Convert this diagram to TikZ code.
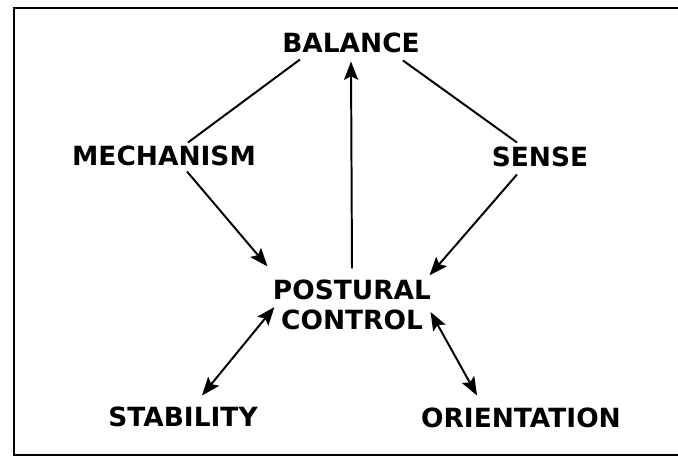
\documentclass[tikz,border=0pt]{standalone}
\usepackage{fontspec}
\setmainfont{DejaVu Sans}
\usetikzlibrary{arrows.meta,calc}
\begin{document}
\begin{tikzpicture}[x=0.025cm, y=-0.025cm,
  every node/.style={font=\fontsize{18.8}{21.5}\selectfont\bfseries, inner sep=3pt},
  link/.style={line width=1.4pt},
  arr/.style={link, -{Stealth[length=13pt, width=10pt, inset=2.5pt]}},
  darr/.style={link, {Stealth[length=13pt, width=10pt, inset=2.5pt]}-{Stealth[length=13pt, width=10pt, inset=2.5pt]}}]
\useasboundingbox (0,0) rectangle (678,458);
% open frame, no right side
\draw[line width=1.6pt] (678,8) -- (14,8) -- (14,455) -- (678,455);
% concepts
\node (bal) at (351,43) {BALANCE};
\node (mech) at (164,156) {MECHANISM};
\node (sense) at (540,157) {SENSE};
\node[align=center] (post) at (352,305) {POSTURAL\\CONTROL};
\node (stab) at (183,417) {STABILITY};
\node (orient) at (521,418) {ORIENTATION};
% links into balance
\draw[link] ($(bal.south)+(-51,2)$) -- ($(mech.north)+(24,1)$);
\draw[link] ($(bal.south)+(52,3)$) -- ($(sense.north)+(-23,0)$);
\draw[arr] ($(post.north)+(0,-7)$) -- ($(bal.south)+(0,4)$);
% links into postural control
\draw[arr] ($(mech.south)+(23,1)$) -- ($(post.north west)+(-1,-9)$);
\draw[arr] ($(sense.south)+(-23,3)$) -- ($(post.north east)+(-6,0)$);
\draw[darr] ($(post.west)+(6,2)$) -- ($(stab.north)+(19,-7)$);
\draw[darr] ($(post.east)+(-5,7)$) -- ($(orient.north)+(-44,-8)$);
\end{tikzpicture}
\end{document}
